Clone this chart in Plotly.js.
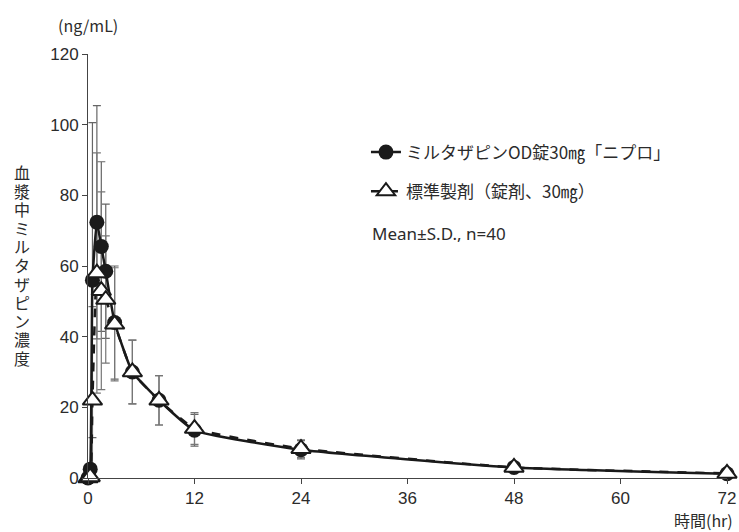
<!DOCTYPE html>
<html>
<head>
<meta charset="utf-8">
<script src="https://cdn.plot.ly/plotly-3.0.1.min.js"></script>
<style>html,body{margin:0;padding:0;background:#fff;}#chart{width:739px;height:532px;}</style>
</head>
<body>
<div id="chart"></div>
<script>
// Data
var timeHr = [0, 0.25, 0.5, 1, 1.5, 2, 3, 5, 8, 12, 24, 48, 72];
var odMean = [0, 2.5, 56, 72.4, 65.5, 58.5, 44, 30, 22, 13.5, 8, 3, 1.2];
var odSD   = [0, 1.5, 44.6, 33, 24, 19, 16, 9, 7, 4.5, 2.6, 1.2, 0.6];
var stdMean = [0, 0.3, 22, 58, 53, 50.5, 43.5, 30, 22, 14, 8.3, 3, 1.3];
var stdSD   = [0, 0.5, 26.5, 34, 28, 18, 16, 9, 7, 4.5, 2.5, 1.2, 0.6];
var xTicks = [0, 12, 24, 36, 48, 60, 72];
var yTicks = [0, 20, 40, 60, 80, 100, 120];
var odName = 'ミルタザピンOD錠30㎎「ニプロ」';
var stdName = '標準製剤（錠剤、30㎎）';
var yTitle = '血漿中ミルタザピン濃度';

var numFont = 'Liberation Sans, Arial, sans-serif';
var jpFont = 'Noto Sans CJK JP, sans-serif';
var txt = '#2b2b2b';

var traces = [
  {x: timeHr, y: odMean, mode: 'markers', marker: {size: 1, opacity: 0},
   error_y: {type: 'data', array: odSD, visible: true, color: '#666', thickness: 1.2, width: 4},
   showlegend: false, hoverinfo: 'skip', cliponaxis: false},
  {x: timeHr, y: stdMean, mode: 'markers', marker: {size: 1, opacity: 0},
   error_y: {type: 'data', array: stdSD, visible: true, color: '#777', thickness: 1.2, width: 4},
   showlegend: false, hoverinfo: 'skip', cliponaxis: false},
  {x: timeHr, y: odMean, name: odName, mode: 'lines+markers', legendgroup: 'a',
   line: {color: '#1a1a1a', width: 2.5, shape: 'spline', smoothing: 0.4},
   marker: {symbol: 'circle', size: 15, color: '#1a1a1a'}, cliponaxis: false},
  {x: timeHr, y: stdMean, name: stdName, mode: 'lines+markers', legendgroup: 'b',
   line: {color: '#1a1a1a', width: 2.5, dash: 'dash', shape: 'spline', smoothing: 0.4},
   marker: {symbol: 'triangle-up', size: 17, color: '#ffffff', line: {color: '#1a1a1a', width: 2}}, cliponaxis: false}
];

var annotations = [
  {text: '(ng/mL)', xref: 'paper', yref: 'paper', x: 0, y: 1.035, xanchor: 'center', yanchor: 'bottom',
   showarrow: false, font: {family: jpFont, size: 16, color: txt}},
  {text: '時間(hr)', xref: 'paper', yref: 'paper', x: 1.0125, y: -0.099, xanchor: 'right', yanchor: 'middle',
   showarrow: false, font: {family: jpFont, size: 16, color: txt}},
  {text: 'Mean±S.D., n=40', xref: 'paper', yref: 'paper', x: 0.442, y: 0.577, xanchor: 'left', yanchor: 'middle',
   showarrow: false, font: {family: 'Noto Sans, sans-serif', size: 17, color: txt}}
];
// vertical (upright) y-axis title, one character per line
yTitle.split('').forEach(function (ch, i) {
  annotations.push({text: ch, xref: 'paper', yref: 'paper', x: -0.103, y: (478 - (172 + 18.6 * i)) / 424,
    xanchor: 'center', yanchor: 'middle', showarrow: false, height: 18, valign: 'middle',
    font: {family: jpFont, size: 16, color: txt}});
});

var layout = {
  width: 739, height: 532,
  margin: {l: 88, r: 12, t: 54, b: 54},
  paper_bgcolor: '#fff', plot_bgcolor: '#fff',
  showlegend: true,
  legend: {x: 0.435, y: 0.81, xanchor: 'left', yanchor: 'top', traceorder: 'grouped', tracegroupgap: 14,
           font: {family: jpFont, size: 17, color: txt}, bgcolor: 'rgba(0,0,0,0)', itemwidth: 30},
  xaxis: {range: [0, 72], tickvals: xTicks, ticktext: xTicks.map(String), showgrid: false, zeroline: false,
          showline: true, linecolor: '#444', linewidth: 1, ticks: 'outside', ticklen: 5, tickcolor: '#444',
          tickfont: {family: numFont, size: 17, color: txt}},
  yaxis: {range: [0, 120], tickvals: yTicks, ticktext: yTicks.map(String), showgrid: false, zeroline: false,
          showline: true, linecolor: '#444', linewidth: 1, ticks: 'outside', ticklen: 5, tickcolor: '#444',
          tickfont: {family: numFont, size: 17, color: txt}},
  annotations: annotations
};

Plotly.newPlot('chart', traces, layout, {displayModeBar: false, staticPlot: true});
</script>
</body>
</html>
